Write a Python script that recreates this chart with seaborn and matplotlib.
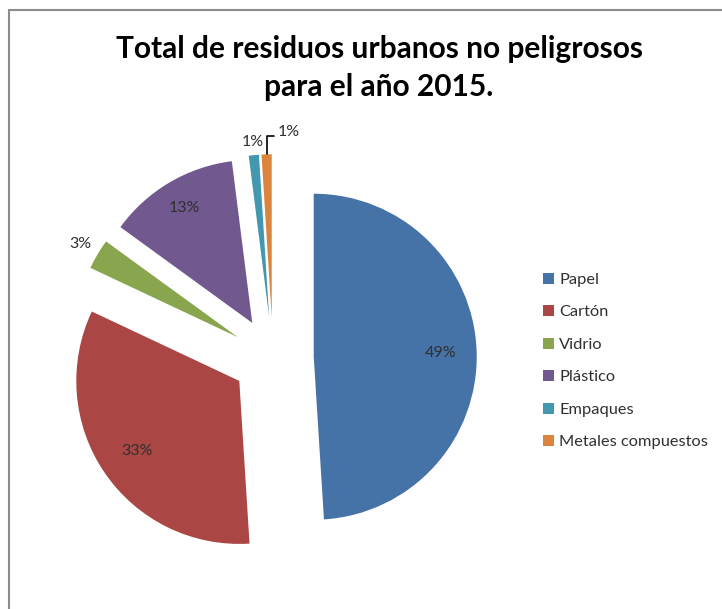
import numpy as np
import matplotlib
matplotlib.use("Agg")
import matplotlib.pyplot as plt
import seaborn as sns
from matplotlib.patches import Rectangle

# datos del gráfico
categorias = ["Papel", "Cartón", "Vidrio", "Plástico", "Empaques", "Metales compuestos"]
porcentajes = [49, 33, 3, 13, 1, 1]
colores = ["#4572A7", "#AA4643", "#89A54E", "#71588F", "#4198AF", "#DB843D"]
titulo = "Total de residuos urbanos no peligrosos\npara el año 2015."

sns.set_theme(style="white")
plt.rcParams["font.family"] = ["Lato", "DejaVu Sans"]

W, H = 722, 609
fig = plt.figure(figsize=(W / 100, H / 100), dpi=100)

# centro y radio del pastel en píxeles
cx, cy, r_px = 273, 358, 163
ax = fig.add_axes([0, 0, 1, 1])

wedges, _ = ax.pie(
    porcentajes,
    colors=colores,
    startangle=90,
    counterclock=False,
    explode=[0.25] * len(porcentajes),
    radius=1,
    wedgeprops=dict(linewidth=0),
)
ax.set_xlim(-cx / r_px, (W - cx) / r_px)
ax.set_ylim(-(H - cy) / r_px, cy / r_px)
ax.set_aspect("equal")
ax.axis("off")

# etiquetas de porcentaje
dist_etiqueta = [0.78, 0.76, 1.12, 0.82, 1.08, None]
color_texto = "#303030"
for w, p, d in zip(wedges, porcentajes, dist_etiqueta):
    ang = np.deg2rad((w.theta1 + w.theta2) / 2)
    x0, y0 = w.center
    if d is not None:
        ax.text(x0 + d * np.cos(ang), y0 + d * np.sin(ang), f"{p}%",
                ha="center", va="center", fontsize=11.5, color=color_texto)
    else:
        tip = (x0 + w.r * np.cos(ang), y0 + w.r * np.sin(ang))
        ax.annotate(f"{p}%", xy=tip, xytext=(tip[0] + 0.065, tip[1] + 0.14),
                    ha="left", va="center", fontsize=11.5, color=color_texto,
                    arrowprops=dict(arrowstyle="-", color="black", lw=1.2,
                                    shrinkA=0, shrinkB=0, relpos=(0, 0.2),
                                    connectionstyle="angle,angleA=0,angleB=90,rad=0"))

fig.text(379 / W, 1 - 68 / H, titulo, ha="center", va="center",
         fontsize=21.5, fontweight="bold", color="black", linespacing=1.42)

leg = fig.legend(wedges, categorias, loc="center left",
                 bbox_to_anchor=(528 / W, 1 - 361 / H), frameon=False,
                 fontsize=11.8, handlelength=0.7, handleheight=0.7,
                 handletextpad=0.3, labelspacing=1.1, labelcolor=color_texto)

# marco del área del gráfico
fig.patches.append(Rectangle((9 / W, -0.2), 1.5, 1.2 - 10 / H,
                             transform=fig.transFigure, fill=False,
                             edgecolor="#8c8c8c", linewidth=1.5))

fig.savefig("out.png", dpi=100)
